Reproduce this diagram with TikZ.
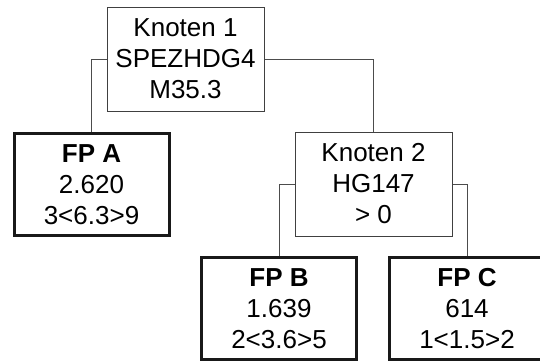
\documentclass[tikz,border=0pt]{standalone}
\usepackage{fontspec}
\setmainfont{Liberation Sans}
\begin{document}
\begin{tikzpicture}[x=1pt,y=-1pt]
	\tikzstyle{every node}+=[font=\fontsize{26}{31}\selectfont, align=center, inner sep=0pt]
	\tikzstyle{knoten}=[draw=black!75, line width=1pt, minimum width=157pt, minimum height=104pt]
	\tikzstyle{blatt}=[draw=black!90, line width=3pt, minimum width=155pt, minimum height=102pt]
	\tikzstyle{kante}=[draw=black!70, line width=1pt]
	\useasboundingbox (0,0) rectangle (540,362);
	\clip (0,0) rectangle (540,362);
	% Knoten
	\node [knoten] (k1) at (185.5,59) {Knoten 1\\SPEZHDG4\\M35.3};
	\node [knoten] (k2) at (373.5,184) {Knoten 2\\HG147\\> 0};
	% Blaetter
	\node [blatt] (fpa) at (91.5,184.5) {\textbf{FP A}\\2.620\\3<6.3>9};
	\node [blatt] (fpb) at (279,308.5) {\textbf{FP B}\\1.639\\2<3.6>5};
	\node [blatt] (fpc) at (467,308.5) {\textbf{FP C}\\614\\1<1.5>2};
	% Kanten
	\draw [kante] (k1.west) -| (fpa.north);
	\draw [kante] (k1.east) -| (k2.north);
	\draw [kante] (k2.west) -| (fpb.north);
	\draw [kante] (k2.east) -| (fpc.north);
\end{tikzpicture}
\end{document}
